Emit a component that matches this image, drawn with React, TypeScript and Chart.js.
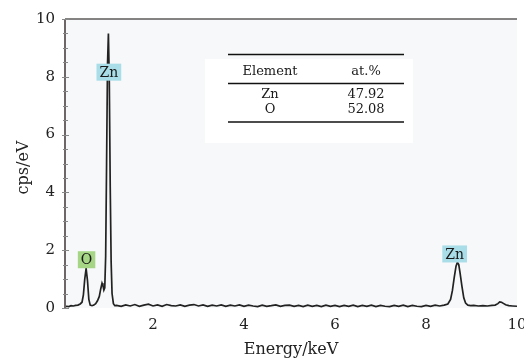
import React, { useEffect, useRef } from "react";
import { Chart, registerables } from "chart.js";

Chart.register(...registerables);

// Spectrum (energy in keV, counts in cps/eV)
const energyKeV: number[] = [
  0.07, 0.1, 0.15, 0.2, 0.25, 0.3, 0.35, 0.4, 0.44, 0.47, 0.5, 0.53, 0.56, 0.59, 0.62, 0.66,
  0.7, 0.74, 0.78, 0.82, 0.85, 0.88, 0.9, 0.92, 0.94, 0.96, 0.98, 1.0, 1.02, 1.04, 1.06, 1.08,
  1.1, 1.13, 1.16,
  1.2, 1.3, 1.4, 1.5, 1.6, 1.7, 1.8, 1.9, 2.0, 2.1, 2.2, 2.3, 2.4, 2.5, 2.6, 2.7, 2.8, 2.9,
  3.0, 3.1, 3.2, 3.3, 3.4, 3.5, 3.6, 3.7, 3.8, 3.9, 4.0, 4.1, 4.2, 4.3, 4.4, 4.5, 4.6, 4.7,
  4.8, 4.9, 5.0, 5.1, 5.2, 5.3, 5.4, 5.5, 5.6, 5.7, 5.8, 5.9, 6.0, 6.1, 6.2, 6.3, 6.4, 6.5,
  6.6, 6.7, 6.8, 6.9, 7.0, 7.1, 7.2, 7.3, 7.4, 7.5, 7.6, 7.7, 7.8, 7.9, 8.0, 8.1, 8.2, 8.3,
  8.4, 8.48, 8.54, 8.58, 8.62, 8.66, 8.69, 8.72, 8.75, 8.79, 8.83, 8.87, 8.92, 8.98, 9.05,
  9.15, 9.25, 9.35, 9.45, 9.52, 9.58, 9.62, 9.66, 9.7, 9.75, 9.82, 9.9, 10.0,
];

const countsPerEV: number[] = [
  0.04, 0.06, 0.05, 0.08, 0.07, 0.09, 0.1, 0.14, 0.2, 0.45, 1.0, 1.37, 0.95, 0.3, 0.1, 0.08,
  0.1, 0.15, 0.25, 0.4, 0.65, 0.86, 0.78, 0.62, 0.7, 1.8, 5.0, 8.4, 9.5, 7.8, 4.2, 1.6,
  0.5, 0.15, 0.08,
  0.09, 0.06, 0.11, 0.07, 0.12, 0.06, 0.1, 0.13, 0.07, 0.11, 0.06, 0.12, 0.08, 0.07, 0.11, 0.06, 0.1, 0.12,
  0.07, 0.11, 0.06, 0.1, 0.07, 0.11, 0.06, 0.1, 0.07, 0.11, 0.06, 0.1, 0.07, 0.05, 0.1, 0.06, 0.08, 0.11,
  0.06, 0.09, 0.1, 0.06, 0.09, 0.05, 0.1, 0.06, 0.09, 0.05, 0.1, 0.06, 0.09, 0.05, 0.09, 0.06, 0.1, 0.05,
  0.09, 0.06, 0.1, 0.05, 0.09, 0.06, 0.05, 0.09, 0.06, 0.1, 0.05, 0.09, 0.06, 0.05, 0.09, 0.06, 0.1, 0.07,
  0.1, 0.14, 0.3, 0.6, 1.05, 1.45, 1.58, 1.5, 1.2, 0.75, 0.35, 0.17, 0.1, 0.08, 0.09,
  0.07, 0.08, 0.07, 0.09, 0.1, 0.15, 0.21, 0.2, 0.16, 0.11, 0.08, 0.07, 0.06,
];

const xTicks: number[] = [2, 4, 6, 8, 10];
const yTicks: number[] = [0, 2, 4, 6, 8, 10];

// Peak labels
const peakNames: string[] = ["Zn", "O", "Zn"];
const peakLabelX: number[] = [1.03, 0.54, 8.63];
const peakLabelY: number[] = [8.16, 1.67, 1.87];
const peakColors: string[] = ["#a9dde7", "#a5d585", "#a9dde7"];

// Inset table
const tableHeader: string[] = ["Element", "at.%"];
const tableElements: string[] = ["Zn", "O"];
const tableAtPercent: string[] = ["47.92", "52.08"];

const FONT = "'DejaVu Serif', 'Liberation Serif', serif";

const decoPlugin = {
  id: "deco",
  beforeDatasetsDraw(chart: any) {
    const { ctx, chartArea: ca } = chart;
    ctx.save();
    ctx.fillStyle = "#f7f8f9";
    ctx.fillRect(ca.left, ca.top, ca.right - ca.left, ca.bottom - ca.top);
    ctx.fillStyle = "#ffffff";
    ctx.fillRect(ca.left + 140, ca.top + 40, 208, 84);
    ctx.restore();
  },
  afterDatasetsDraw(chart: any) {
    const { ctx, chartArea: ca, scales } = chart;
    const xs = scales.x;
    const ys = scales.y;
    ctx.save();

    // left axis
    ctx.strokeStyle = "#6e6666";
    ctx.lineWidth = 2;
    ctx.beginPath();
    ctx.moveTo(ca.left, ca.top);
    ctx.lineTo(ca.left, ca.bottom + 1);
    ctx.stroke();
    // top border
    ctx.strokeStyle = "#5e5a5a";
    ctx.lineWidth = 1.5;
    ctx.beginPath();
    ctx.moveTo(ca.left, ca.top);
    ctx.lineTo(ca.right, ca.top);
    ctx.stroke();

    // y ticks (major + minor)
    ctx.strokeStyle = "#888";
    ctx.lineWidth = 1;
    for (let v = 0; v <= 10.001; v += 0.5) {
      const py = Math.round(ys.getPixelForValue(v)) + 0.5;
      const major = Math.abs(v - Math.round(v / 2) * 2) < 1e-6;
      ctx.beginPath();
      ctx.moveTo(ca.left - (major ? 3 : 2), py);
      ctx.lineTo(ca.left + (major ? 4 : 3), py);
      ctx.stroke();
    }

    // peak labels
    ctx.font = `14px ${FONT}`;
    ctx.textAlign = "center";
    ctx.textBaseline = "middle";
    peakNames.forEach((name, i) => {
      const px = xs.getPixelForValue(peakLabelX[i]);
      const py = ys.getPixelForValue(peakLabelY[i]);
      const w = ctx.measureText(name).width + 6;
      const h = 17;
      ctx.fillStyle = peakColors[i];
      ctx.fillRect(px - w / 2, py - h / 2, w, h);
      ctx.fillStyle = "#1a1a1a";
      ctx.fillText(name, px, py + 1);
    });

    // inset table
    const tl = ca.left + 163;
    const tr = ca.left + 339;
    const c1 = ca.left + 205;
    const c2 = ca.left + 301;
    ctx.strokeStyle = "#111";
    ctx.lineWidth = 1.3;
    [35.5, 64.5, 103].forEach((dy) => {
      ctx.beginPath();
      ctx.moveTo(tl, ca.top + dy);
      ctx.lineTo(tr, ca.top + dy);
      ctx.stroke();
    });
    ctx.fillStyle = "#1a1a1a";
    ctx.font = `13px ${FONT}`;
    ctx.fillText(tableHeader[0], c1, ca.top + 53);
    ctx.fillText(tableHeader[1], c2, ca.top + 53);
    tableElements.forEach((el, i) => {
      const ty = ca.top + 76 + i * 15;
      ctx.fillText(el, c1, ty);
      ctx.fillText(tableAtPercent[i], c2, ty);
    });

    // axis titles
    ctx.fillStyle = "#222";
    ctx.font = `16px ${FONT}`;
    ctx.fillText("Energy/keV", (ca.left + ca.right) / 2, 350);
    ctx.save();
    ctx.translate(24, (ca.top + ca.bottom) / 2 + 4);
    ctx.rotate(-Math.PI / 2);
    ctx.fillText("cps/eV", 0, 0);
    ctx.restore();

    ctx.restore();
  },
};

export default function App() {
  const canvasRef = useRef<HTMLCanvasElement | null>(null);

  useEffect(() => {
    if (!canvasRef.current) return;
    const chart = new Chart(canvasRef.current, {
      type: "line",
      data: {
        datasets: [
          {
            data: energyKeV.map((x, i) => ({ x, y: countsPerEV[i] })),
            borderColor: "#222222",
            borderWidth: 1.7,
            pointRadius: 0,
            tension: 0,
            fill: false,
          },
        ],
      },
      options: {
        responsive: false,
        animation: false,
        layout: { padding: { top: 17, right: 23, left: 0, bottom: 0 } },
        plugins: { legend: { display: false }, tooltip: { enabled: false } },
        scales: {
          x: {
            type: "linear",
            min: 0.066,
            max: 10,
            afterBuildTicks: (s: any) => {
              s.ticks = xTicks.map((v) => ({ value: v }));
            },
            afterFit: (s: any) => {
              s.height = 50;
            },
            grid: { display: false, drawTicks: false },
            border: { display: false },
            ticks: {
              padding: 8,
              maxRotation: 0,
              autoSkip: false,
              color: "#222",
              font: { family: FONT, size: 15 },
            },
          },
          y: {
            min: 0,
            max: 10,
            afterBuildTicks: (s: any) => {
              s.ticks = yTicks.map((v) => ({ value: v }));
            },
            afterFit: (s: any) => {
              s.width = 65;
            },
            grid: { display: false, drawTicks: false },
            border: { display: false },
            ticks: {
              padding: 10,
              color: "#222",
              font: { family: FONT, size: 15 },
            },
          },
        },
      },
      plugins: [decoPlugin],
    } as any);
    return () => chart.destroy();
  }, []);

  return (
    <div
      style={{
        position: "absolute",
        left: 0,
        top: 0,
        width: 524,
        height: 358,
        overflow: "hidden",
        background: "#fff",
      }}
    >
      <canvas ref={canvasRef} width={540} height={358} style={{ display: "block", width: 540, height: 358 }} />
    </div>
  );
}
